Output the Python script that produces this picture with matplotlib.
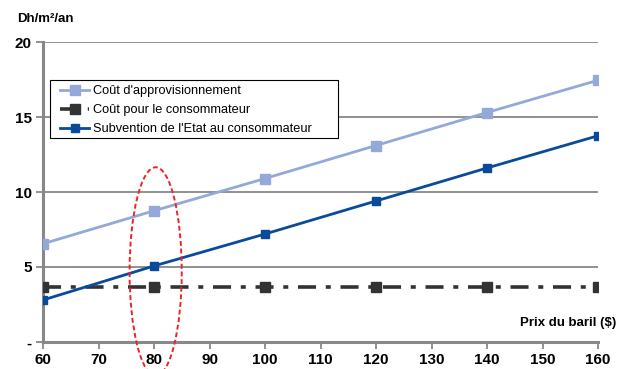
import matplotlib
matplotlib.use('Agg')
import matplotlib.pyplot as plt
from matplotlib.patches import Ellipse, Rectangle

plt.rcParams['font.family'] = ['Liberation Sans', 'DejaVu Sans']
plt.rcParams['lines.scale_dashes'] = False

# data
prix = [60, 80, 100, 120, 140, 160]
cout_appro = [6.55, 8.75, 10.9, 13.1, 15.3, 17.45]
cout_conso = [3.65, 3.65, 3.65, 3.65, 3.65, 3.65]
subvention = [2.8, 5.07, 7.2, 9.4, 11.6, 13.75]
xticks = [60, 70, 80, 90, 100, 110, 120, 130, 140, 150, 160]
yticks = [0, 5, 10, 15, 20]
ytick_labels = ['-', '5', '10', '15', '20']

W, H = 618, 369
fig = plt.figure(figsize=(W / 100, H / 100), dpi=100)
ax = fig.add_axes([43 / W, 1 - 342 / H, 555 / W, 300 / H])

grid_col = '#888888'
for y in yticks[1:]:
	ax.axhline(y, color=grid_col, lw=1.3, zorder=1)

ax.plot(prix, cout_appro, color='#94a9d9', lw=2, marker='s', ms=7,
	label="Coût d'approvisionnement", zorder=3)
ax.plot(prix, cout_conso, color='#333333', lw=2.6, marker='s', ms=7,
	dashes=[13, 7, 3.6, 7], label='Coût pour le consommateur', zorder=3)
ax.plot(prix, subvention, color='#0a4a9b', lw=2, marker='s', ms=6,
	label="Subvention de l'Etat au consommateur", zorder=3)

# red dashed ellipse around 80 $
ell = Ellipse((80.3, 4.7), 9.4, 13.9, fill=False, edgecolor='#e8262a',
	lw=1.4, ls=(0, (3.5, 2)), clip_on=False, zorder=4)
ax.add_patch(ell)

ax.set_xlim(60, 160)
ax.set_ylim(0, 20)
ax.set_xticks(xticks)
ax.set_yticks(yticks)
ax.set_yticklabels(ytick_labels)

for s in ['top', 'right']:
	ax.spines[s].set_visible(False)
for s in ['left', 'bottom']:
	ax.spines[s].set_color(grid_col)
	ax.spines[s].set_linewidth(2.2)
ax.tick_params(axis='both', colors=grid_col, width=1.3, length=5, labelcolor='black',
	labelsize=11, pad=3)
for lab in ax.get_xticklabels() + ax.get_yticklabels():
	lab.set_fontweight('bold')

fig.text(17 / W, 1 - 19 / H, 'Dh/m²/an', fontsize=9.5, fontweight='bold', va='center')
fig.text(616 / W, 1 - 323 / H, 'Prix du baril ($)', fontsize=9.5, fontweight='bold',
	ha='right', va='center')

# legend with a hand-drawn frame like the original
leg = fig.legend(loc='upper left', bbox_to_anchor=(60 / W, 1 - 85 / H), fontsize=9.2,
	frameon=False, borderpad=0, labelspacing=0.55,
	handlelength=2.3, handletextpad=0.3, borderaxespad=0)
fig.patches.append(Rectangle((50 / W, 1 - 138 / H), 288 / W, 58 / H,
	transform=fig.transFigure, fill=True, facecolor='white', edgecolor='black',
	lw=0.8, zorder=4))
leg.set_zorder(5)

fig.savefig('out.png', dpi=100)
